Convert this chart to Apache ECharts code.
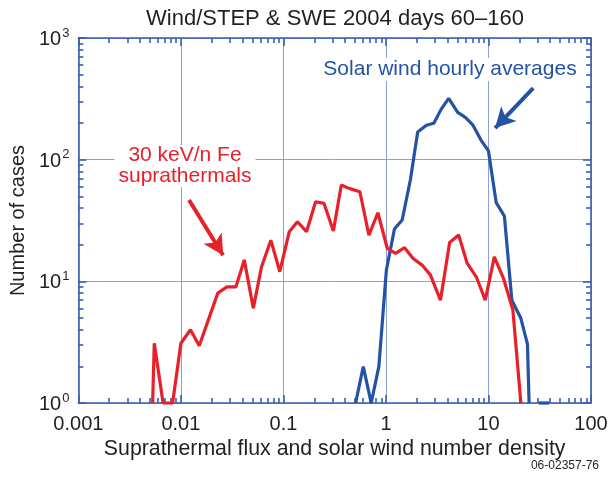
<!DOCTYPE html>
<html>
<head>
<meta charset="utf-8">
<script src="https://cdn.jsdelivr.net/npm/echarts@6/dist/echarts.min.js"></script>
<style>
  html, body { margin: 0; padding: 0; background: #fff; }
  #chart { width: 613px; height: 478px; }
</style>
</head>
<body>
<div id="chart"></div>
<script>
// 30 keV/n Fe suprathermals (red)
const redX = [0.0053, 0.0055, 0.0067, 0.0083, 0.0100, 0.0124, 0.0151, 0.0229, 0.0281, 0.0344,
  0.0415, 0.0508, 0.0612, 0.0754, 0.0922, 0.114, 0.137, 0.168, 0.206, 0.249,
  0.307, 0.367, 0.436, 0.557, 0.682, 0.834, 1.03, 1.24, 1.52, 1.84,
  2.25, 2.71, 3.40, 4.18, 5.12, 6.17, 7.60, 9.31, 11.4, 14.0, 17.3, 20.7];
const redY = [1, 3.1, 1, 1, 3.1, 4.0, 2.96, 8.0, 9.0, 9.0,
  15, 6.0, 13.2, 21.8, 12.0, 25.6, 30.9, 25.6, 45.1, 43.7,
  25.9, 61.8, 58.1, 54.5, 24.0, 36.6, 18.7, 17.0, 18.9, 15.4,
  13.6, 11.3, 7.0, 20.9, 24.0, 14.2, 10.9, 7.0, 15.9, 10.6, 5.8, 1];

// solar wind hourly averages (blue)
const blueX = [0.506, 0.601, 0.718, 0.853, 1.01, 1.21, 1.44, 1.73, 2.04, 2.48,
  2.93, 3.45, 4.09, 5.01, 5.95, 7.06, 8.45, 10.0, 11.9, 14.3,
  16.9, 20.7, 24.0, 24.9];
const blueY = [1, 1.99, 1, 2.0, 12.4, 26.9, 31.9, 68, 169, 192,
  199, 259, 319, 245, 223, 192, 145, 118, 44.3, 34.4,
  7.0, 4.97, 3.05, 1];
const blueTailX = [31, 39];
const blueTailY = [1, 1];

// annotation arrows [from, to] in data space
const redArrow = [[0.0120, 46.6], [0.0258, 16.4]];
const blueArrow = [[27.3, 387], [11.6, 182]];

const RED = '#e8202a';
const BLUE = '#2452a4';
const AXIS = '#3a5fb2';
const GRID = '#8e9fd6';
const INK = '#231f20';
const FONT = 'Liberation Sans, Arial, Helvetica, sans-serif';

const zip = (xs, ys) => xs.map((x, i) => [x, ys[i]]);

const supLabel = v => '{b|10}{s|' + Math.round(Math.log10(v)) + '}';
const xLabel = v => v >= 1 ? String(Math.round(v)) : String(+v.toPrecision(1));

// inside ticks on all four sides: decades longer, 2..9 shorter
const frame = (type, min, max, pos) => ({
  type: type, min: min, max: max, position: pos,
  axisLine: { show: true, lineStyle: { color: AXIS, width: 1.6 } },
  axisTick: { show: true, inside: true, length: 8, lineStyle: { color: AXIS, width: 1.6 } },
  minorTick: { show: true, splitNumber: 9, length: 5, lineStyle: { color: AXIS, width: 1.6 } },
  axisLabel: { show: false },
  splitLine: { show: false }
});

const arrowLine = (pts, color) => ({
  silent: true,
  symbol: ['none', 'arrow'],
  symbolSize: [16, 20],
  label: { show: false },
  lineStyle: { color: color, width: 4, type: 'solid' },
  data: [[{ coord: pts[0] }, { coord: pts[1] }]]
});

const xMain = frame('log', 0.001, 100, 'bottom');
xMain.name = 'Suprathermal flux and solar wind number density';
xMain.nameLocation = 'middle';
xMain.nameGap = 32;
xMain.nameTextStyle = { fontSize: 21.3, color: INK, fontFamily: FONT };
xMain.axisLabel = { formatter: xLabel, fontSize: 20, color: INK, margin: 11, fontFamily: FONT };
xMain.splitLine = { show: true, lineStyle: { color: GRID, width: 1 } };

const yMain = frame('log', 1, 1000, 'left');
yMain.name = 'Number of cases';
yMain.nameLocation = 'middle';
yMain.nameGap = 49;
yMain.nameRotate = 90;
yMain.nameTextStyle = { fontSize: 20, color: INK, fontFamily: FONT };
yMain.axisLabel = {
  formatter: supLabel, margin: 9,
  rich: {
    b: { fontSize: 20, color: INK, fontFamily: FONT, verticalAlign: 'bottom' },
    s: { fontSize: 13, color: INK, fontFamily: FONT, verticalAlign: 'top', padding: [0, 0, 10, 1] }
  }
};
yMain.splitLine = { show: true, lineStyle: { color: GRID, width: 1 } };

const chart = echarts.init(document.getElementById('chart'));
chart.setOption({
  animation: false,
  grid: { left: 77, right: 22, top: 38, bottom: 75 },
  xAxis: [xMain, frame('log', 0.001, 100, 'top')],
  yAxis: [yMain, frame('log', 1, 1000, 'right')],
  graphic: [
    { type: 'text', x: 335, y: 8, z: 10,
      style: { text: 'Wind/STEP & SWE 2004 days 60\u2013160', font: '22px ' + FONT, fill: INK, align: 'center' } },
    { type: 'text', x: 185, y: 145, z: 10,
      style: { text: '30 keV/n Fe\nsuprathermals', font: '21px ' + FONT, fill: RED, align: 'center',
        lineHeight: 21, backgroundColor: '#fff', padding: [0, 4] } },
    { type: 'text', x: 450, y: 58, z: 10,
      style: { text: 'Solar wind hourly averages', font: '21px ' + FONT, fill: BLUE, align: 'center',
        backgroundColor: '#fff', padding: [1, 4] } },
    { type: 'text', right: 14, bottom: 6, z: 10,
      style: { text: '06-02357-76', font: '12px ' + FONT, fill: INK } }
  ],
  series: [
    { type: 'line', data: zip(blueX, blueY), showSymbol: false, clip: false, z: 4,
      lineStyle: { color: BLUE, width: 3.2 }, markLine: arrowLine(blueArrow, BLUE) },
    { type: 'line', data: zip(blueTailX, blueTailY), showSymbol: false, clip: false, z: 4,
      lineStyle: { color: BLUE, width: 3.2 } },
    { type: 'line', data: zip(redX, redY), showSymbol: false, clip: false, z: 5,
      lineStyle: { color: RED, width: 3.2 }, markLine: arrowLine(redArrow, RED) }
  ]
});
</script>
</body>
</html>
